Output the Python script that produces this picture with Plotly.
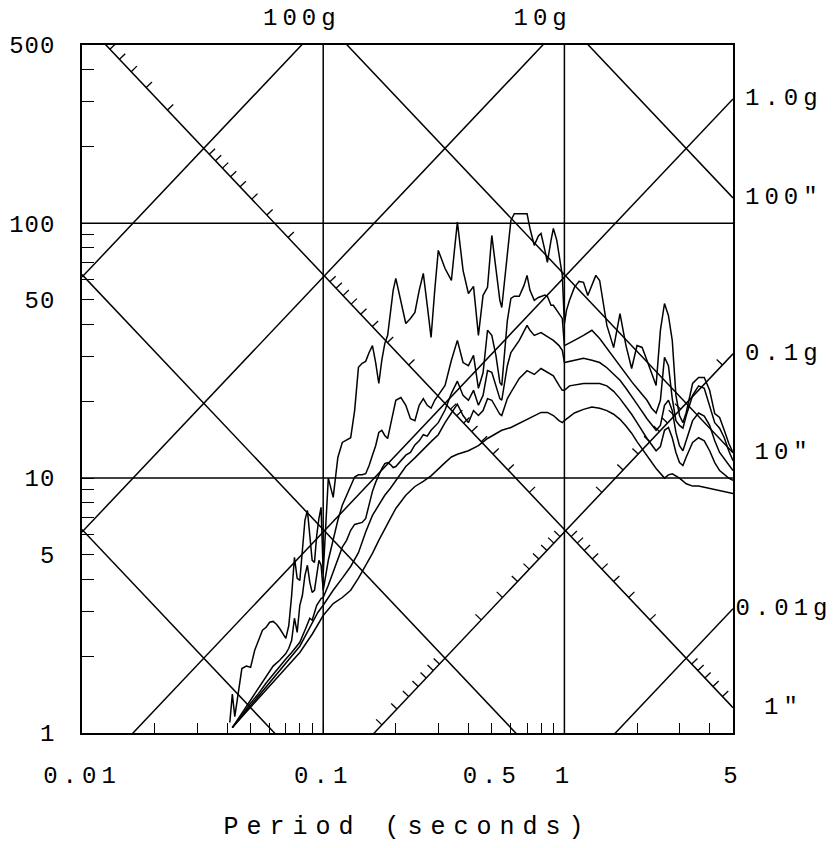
import numpy as np
import plotly.graph_objects as go

G_IN = 386.1  # gravity in in/s^2

# ---- response spectra: period (s) and pseudo-velocity (in/s) ----
period_1 = [0.041, 0.042, 0.043, 0.046, 0.048, 0.050, 0.052, 0.054, 0.056, 0.058,
            0.060, 0.062, 0.064, 0.066, 0.068, 0.070, 0.072, 0.074, 0.076, 0.078,
            0.080, 0.082, 0.084, 0.086, 0.088, 0.090, 0.092, 0.094, 0.096, 0.098,
            0.100, 0.105, 0.11, 0.115, 0.12, 0.125, 0.13, 0.135, 0.14, 0.145,
            0.15, 0.155, 0.16, 0.165, 0.17, 0.175, 0.18, 0.185, 0.19, 0.195,
            0.20, 0.21, 0.22, 0.23, 0.24, 0.25, 0.26, 0.27, 0.28, 0.29,
            0.30, 0.32, 0.33, 0.34, 0.35, 0.36, 0.38, 0.40, 0.42, 0.44,
            0.46, 0.48, 0.50, 0.52, 0.54, 0.55, 0.58, 0.60, 0.62, 0.65,
            0.70, 0.72, 0.75, 0.78, 0.80, 0.83, 0.85, 0.88, 0.90, 0.93,
            0.95, 0.98, 1.00, 1.02, 1.05, 1.1, 1.15, 1.2, 1.25, 1.3,
            1.35, 1.4, 1.45, 1.5, 1.6, 1.7, 1.8, 1.9, 2.0, 2.1,
            2.2, 2.3, 2.4, 2.5, 2.6, 2.7, 2.8, 2.9, 3.0, 3.1,
            3.2, 3.4, 3.6, 3.8, 4.0, 4.2, 4.4, 4.6, 4.8, 5.0]
velocity_1 = [1.10, 1.42, 1.16, 1.79, 1.83, 1.81, 2.11, 2.31, 2.53, 2.60,
              2.72, 2.74, 2.67, 2.57, 2.46, 2.35, 2.64, 3.47, 4.89, 4.04,
              3.97, 5.45, 6.83, 7.47, 5.96, 4.76, 4.67, 5.96, 6.95, 7.68,
              4.23, 10.0, 8.40, 12.05, 13.8, 14.05, 14.4, 18.4, 27.2, 28.2,
              28.7, 31.1, 33.1, 28.4, 23.5, 29.0, 33.7, 36.3, 45.5, 54.5,
              60.7, 49.8, 40.4, 42.3, 44.7, 54.5, 63.5, 47.6, 35.6, 54.5,
              78.2, 66.4, 62.4, 59.6, 78.2, 101.0, 65.3, 53.0, 56.5, 36.3,
              52.1, 56.0, 89.5, 65.3, 49.8, 46.7, 78.2, 102.5, 109.0, 109.0,
              109.0, 95.3, 81.8, 89.1, 91.1, 78.2, 70.2, 85.6, 95.3, 85.6,
              74.7, 62.4, 40.4, 45.5, 49.8, 56.0, 59.1, 58.6, 52.0, 57.0,
              62.4, 59.6, 47.6, 39.7, 32.5, 44.2, 33.1, 26.9, 33.1, 32.55,
              28.95, 26.0, 23.1, 37.95, 48.4, 43.4, 34.7, 21.1, 17.6, 16.5,
              18.1, 23.5, 24.8, 24.8, 22.1, 17.9, 17.3, 15.4, 13.7, 12.6]

period_2 = [0.042, 0.045, 0.048, 0.050, 0.054, 0.058, 0.062, 0.066, 0.070, 0.072,
            0.074, 0.076, 0.078, 0.080, 0.082, 0.084, 0.086, 0.088, 0.090, 0.092,
            0.094, 0.096, 0.098, 0.100, 0.105, 0.11, 0.115, 0.12, 0.125, 0.13,
            0.135, 0.14, 0.145, 0.15, 0.155, 0.16, 0.165, 0.17, 0.175, 0.18,
            0.185, 0.19, 0.195, 0.20, 0.21, 0.22, 0.23, 0.24, 0.25, 0.26,
            0.27, 0.28, 0.29, 0.30, 0.32, 0.34, 0.36, 0.38, 0.40, 0.42,
            0.44, 0.46, 0.48, 0.50, 0.52, 0.54, 0.55, 0.58, 0.60, 0.62,
            0.65, 0.68, 0.70, 0.72, 0.75, 0.78, 0.80, 0.83, 0.85, 0.88,
            0.90, 0.93, 0.95, 0.98, 1.00, 1.05, 1.1, 1.2, 1.3, 1.4,
            1.5, 1.6, 1.7, 1.8, 1.9, 2.0, 2.1, 2.2, 2.3, 2.4,
            2.5, 2.6, 2.7, 2.8, 2.9, 3.0, 3.1, 3.2, 3.4, 3.6,
            3.8, 4.0, 4.2, 4.4, 4.6, 4.8, 5.0]
velocity_2 = [1.05, 1.16, 1.26, 1.34, 1.50, 1.67, 1.83, 1.93, 2.05, 2.15,
              2.31, 2.82, 2.48, 3.17, 3.47, 4.15, 4.55, 3.90, 3.56, 3.63,
              4.15, 4.76, 4.55, 3.63, 4.76, 5.70, 6.83, 7.82, 8.56, 9.27,
              10.1, 10.3, 10.3, 10.4, 11.2, 12.3, 13.4, 15.1, 15.4, 14.7,
              14.3, 16.1, 18.1, 20.2, 20.7, 19.3, 17.1, 16.8, 19.3, 20.5,
              19.3, 18.8, 20.2, 21.1, 23.1, 29.0, 34.7, 28.4, 27.6, 30.3,
              22.5, 25.9, 38.0, 36.3, 30.3, 23.7, 23.1, 41.5, 50.7, 51.7,
              51.7, 57.0, 62.4, 54.5, 49.8, 51.1, 51.7, 52.2, 51.7, 47.6,
              47.6, 45.5, 44.6, 42.3, 33.1, 34.0, 34.7, 36.3, 38.0, 35.3,
              32.3, 29.5, 27.3, 25.5, 23.9, 22.5, 21.4, 20.2, 18.8, 18.0,
              20.2, 29.8, 27.6, 20.5, 16.8, 16.1, 15.7, 17.6, 21.1, 23.0,
              22.5, 19.3, 16.5, 15.7, 14.4, 12.8, 11.7]

period_3 = [0.042, 0.045, 0.05, 0.054, 0.058, 0.062, 0.066, 0.070, 0.074, 0.078,
            0.080, 0.084, 0.088, 0.090, 0.094, 0.098, 0.100, 0.105, 0.11, 0.115,
            0.12, 0.125, 0.13, 0.135, 0.14, 0.145, 0.15, 0.155, 0.16, 0.165,
            0.17, 0.175, 0.18, 0.185, 0.19, 0.195, 0.20, 0.21, 0.22, 0.23,
            0.24, 0.25, 0.26, 0.27, 0.28, 0.30, 0.32, 0.34, 0.36, 0.38,
            0.40, 0.42, 0.44, 0.46, 0.48, 0.50, 0.52, 0.54, 0.55, 0.58,
            0.60, 0.65, 0.70, 0.72, 0.75, 0.80, 0.85, 0.90, 0.95, 0.98,
            1.00, 1.1, 1.2, 1.3, 1.4, 1.5, 1.6, 1.7, 1.8, 1.9,
            2.0, 2.2, 2.4, 2.5, 2.6, 2.7, 2.8, 2.9, 3.0, 3.1,
            3.2, 3.4, 3.6, 3.8, 4.0, 4.2, 4.4, 4.6, 4.8, 5.0]
velocity_3 = [1.05, 1.14, 1.31, 1.43, 1.57, 1.70, 1.83, 1.95, 2.07, 2.19,
              2.27, 2.53, 2.82, 2.77, 3.17, 3.37, 3.40, 3.80, 4.27, 4.76,
              5.36, 5.70, 6.24, 6.58, 6.64, 6.70, 6.95, 7.82, 8.87, 9.62,
              10.3, 10.9, 11.4, 11.5, 11.3, 11.0, 11.1, 11.7, 12.3, 12.6,
              13.5, 14.0, 14.8, 14.6, 15.4, 16.5, 18.5, 21.5, 24.0, 21.1,
              20.2, 22.1, 19.3, 21.1, 26.4, 26.0, 23.1, 20.5, 20.2, 27.6,
              31.1, 34.7, 39.7, 38.0, 36.3, 37.2, 35.9, 34.7, 33.1, 31.7,
              28.4, 29.0, 29.5, 29.0, 28.4, 27.1, 25.6, 24.2, 22.5, 21.0,
              19.5, 17.1, 15.4, 16.1, 19.3, 20.2, 18.4, 15.1, 13.4, 12.8,
              14.0, 16.8, 18.0, 17.5, 16.1, 14.0, 12.6, 11.9, 11.3, 10.7]

period_4 = [0.042, 0.05, 0.058, 0.066, 0.074, 0.080, 0.084, 0.090, 0.095, 0.100,
            0.11, 0.12, 0.13, 0.14, 0.15, 0.16, 0.17, 0.18, 0.19, 0.20,
            0.22, 0.24, 0.26, 0.28, 0.30, 0.32, 0.34, 0.36, 0.38, 0.40,
            0.42, 0.44, 0.46, 0.48, 0.50, 0.52, 0.54, 0.55, 0.58, 0.60,
            0.65, 0.70, 0.75, 0.80, 0.85, 0.90, 0.95, 0.98, 1.00, 1.05,
            1.2, 1.4, 1.5, 1.6, 1.7, 1.8, 1.9, 2.0, 2.2, 2.4,
            2.5, 2.6, 2.7, 2.8, 2.9, 3.0, 3.1, 3.2, 3.4, 3.6,
            3.8, 4.0, 4.2, 4.4, 4.6, 4.8, 5.0]
velocity_4 = [1.05, 1.28, 1.52, 1.76, 2.00, 2.19, 2.39, 2.72, 2.97, 3.17,
              3.63, 4.05, 4.50, 5.10, 6.14, 7.14, 7.82, 8.56, 9.12, 9.8,
              11.1, 12.0, 13.0, 13.9, 14.8, 16.5, 18.0, 19.5, 17.6, 16.5,
              18.4, 17.6, 18.4, 20.5, 20.2, 19.0, 17.8, 17.6, 20.5, 21.7,
              24.6, 26.4, 25.5, 26.9, 26.0, 25.2, 23.1, 22.1, 22.1, 23.0,
              23.5, 23.5, 23.0, 21.9, 20.5, 19.1, 17.8, 16.5, 14.3, 12.8,
              13.3, 15.4, 15.8, 14.4, 12.6, 11.5, 11.2, 12.1, 13.8, 14.4,
              14.0, 12.8, 11.5, 10.7, 10.3, 10.0, 9.8]

period_5 = [0.042, 0.05, 0.058, 0.066, 0.074, 0.080, 0.090, 0.100, 0.11, 0.12,
            0.13, 0.14, 0.15, 0.16, 0.17, 0.18, 0.19, 0.20, 0.22, 0.24,
            0.26, 0.28, 0.30, 0.32, 0.34, 0.36, 0.40, 0.44, 0.48, 0.52,
            0.55, 0.60, 0.65, 0.70, 0.75, 0.80, 0.85, 0.90, 0.95, 0.98,
            1.00, 1.1, 1.2, 1.3, 1.4, 1.5, 1.6, 1.7, 1.8, 1.9,
            2.0, 2.2, 2.4, 2.6, 2.7, 2.8, 3.0, 3.2, 3.4, 3.6,
            4.0, 4.4, 5.0]
velocity_5 = [1.05, 1.26, 1.47, 1.68, 1.89, 2.07, 2.44, 2.89, 3.22, 3.40,
              3.63, 4.05, 4.55, 5.07, 5.70, 6.35, 6.95, 7.6, 8.56, 9.27,
              9.7, 10.2, 10.9, 11.5, 12.1, 12.4, 12.8, 13.4, 14.3, 15.0,
              15.4, 15.8, 16.4, 17.0, 17.6, 18.1, 18.1, 17.6, 16.8, 16.5,
              16.8, 18.0, 18.6, 19.0, 18.8, 18.4, 17.8, 17.0, 16.0, 15.0,
              13.9, 12.3, 10.9, 10.0, 10.3, 10.4, 10.0, 9.5, 9.3, 9.3,
              9.1, 8.95, 8.7]

spectra = [(period_1, velocity_1), (period_2, velocity_2), (period_3, velocity_3),
           (period_4, velocity_4), (period_5, velocity_5)]

# ---- tripartite grid ----
accel_lines_g = [0.01, 0.1, 1.0, 10.0, 100.0]
disp_lines_in = [0.01, 0.1, 1.0, 10.0, 100.0]
grid_periods = [0.1, 1.0]
grid_velocities = [10.0, 100.0]
tick_mantissas = [2, 3, 4, 5, 6, 7, 8, 9]
ticked_disp_line_in = 1.0      # carries acceleration ticks
ticked_accel_line_g = 0.1      # carries displacement ticks

x_tick_vals = [0.01, 0.1, 0.5, 1, 5]
x_tick_text = ["0.01", "0.1", "0.5", "1", "5"]
x_minor_vals = [0.02, 0.03, 0.04, 0.05, 0.06, 0.07, 0.08, 0.09,
                0.2, 0.3, 0.4, 0.6, 0.7, 0.8, 0.9, 2, 3, 4]
y_tick_vals = [1, 5, 10, 50, 100, 500]
y_tick_text = ["1", "5", "10", "50", "100", "500"]
y_minor_vals = [2, 3, 4, 6, 7, 8, 9, 20, 30, 40, 60, 70, 80, 90, 200, 300, 400]

right_labels = [("1.0g", "A", 1.0), ('100"', "D", 100.0), ("0.1g", "A", 0.1),
                ('10"', "D", 10.0), ("0.01g", "A", 0.01), ('1"', "D", 1.0)]
top_labels = [("100g", 100.0), ("10g", 10.0)]

# ---- geometry ----
W, H = 836, 848
M = dict(l=80, r=103, t=45, b=115)
T_MIN, T_MAX = 0.01, 5.0
V_MIN, V_MAX = 1.0, 500.0
X_RANGE = [np.log10(T_MIN), np.log10(T_MAX)]
Y_RANGE = [np.log10(V_MIN), np.log10(V_MAX)]
PW = W - M["l"] - M["r"]
PH = H - M["t"] - M["b"]
PX_X = PW / (X_RANGE[1] - X_RANGE[0])
PX_Y = PH / (Y_RANGE[1] - Y_RANGE[0])

INK = "black"
FONT = "Liberation Mono"

fig = go.Figure()


def add_line(x, y, width=1.5):
    fig.add_trace(go.Scatter(x=x, y=y, mode="lines",
                             line=dict(color=INK, width=width),
                             hoverinfo="skip", showlegend=False))


t_span = np.array([T_MIN, T_MAX])
for a in accel_lines_g:
    add_line(t_span, a * G_IN * t_span / (2 * np.pi))
for d in disp_lines_in:
    add_line(t_span, 2 * np.pi * d / t_span)
for t in grid_periods:
    add_line([t, t], [V_MIN, V_MAX])
for v in grid_velocities:
    add_line([T_MIN, T_MAX], [v, v])

# short perpendicular ticks along the two labelled diagonals
TICK_LEN = 8.0
norm = np.hypot(PX_X, PX_Y)
dlogT = TICK_LEN * PX_Y / norm / PX_X
dlogV = TICK_LEN * PX_X / norm / PX_Y

tx, ty = [], []
decades = [10.0 ** k for k in range(-3, 3)]
for dec in decades:
    for m in tick_mantissas:
        # acceleration ticks on the constant-displacement line (point up-right)
        acc = m * dec * G_IN
        D = ticked_disp_line_in
        V = np.sqrt(acc * D)
        T = 2 * np.pi * D / V
        tx += [T, T * 10 ** dlogT, None]
        ty += [V, V * 10 ** dlogV, None]
        # displacement ticks on the constant-acceleration line (point up-left)
        acc = ticked_accel_line_g * G_IN
        D = m * dec
        V = np.sqrt(acc * D)
        T = 2 * np.pi * D / V
        tx += [T, T / 10 ** dlogT, None]
        ty += [V, V * 10 ** dlogV, None]
fig.add_trace(go.Scatter(x=tx, y=ty, mode="lines", line=dict(color=INK, width=1.3),
                         hoverinfo="skip", showlegend=False))

# spectra
for per, vel in spectra:
    fig.add_trace(go.Scatter(x=per, y=vel, mode="lines",
                             line=dict(color=INK, width=1.5),
                             hoverinfo="skip", showlegend=False))

# diagonal labels
ann = []
for text, kind, val in right_labels:
    v_edge = val * G_IN * T_MAX / (2 * np.pi) if kind == "A" else 2 * np.pi * val / T_MAX
    ann.append(dict(text=text, xref="paper", x=1 + 51 / PW, xanchor="center",
                    yref="y", y=np.log10(v_edge), yanchor="middle", showarrow=False))
for text, val in top_labels:
    t_top = 2 * np.pi * V_MAX / (val * G_IN)
    ann.append(dict(text=text, xref="x", x=np.log10(t_top), xanchor="center",
                    yref="paper", y=1 + 26 / PH, yanchor="middle", showarrow=False))

fig.update_layout(
    width=W, height=H, margin=M,
    plot_bgcolor="white", paper_bgcolor="white",
    showlegend=False, hovermode=False,
    font=dict(family=FONT, size=24, color=INK),
    annotations=ann,
)
axis_common = dict(type="log", showgrid=False, zeroline=False, showline=True,
                   mirror=True, linecolor=INK, linewidth=1.6,
                   ticks="inside", tickcolor=INK, tickwidth=1.3,
                   tickfont=dict(family=FONT, size=24, color=INK))
fig.update_xaxes(range=X_RANGE, tickvals=x_tick_vals, ticktext=x_tick_text,
                 ticklen=10, ticklabelstandoff=19,
                 minor=dict(tickvals=x_minor_vals, ticks="inside", ticklen=10,
                            tickwidth=1.3, tickcolor=INK, showgrid=False),
                 title=dict(text="Period (seconds)", standoff=28,
                            font=dict(family=FONT, size=25, color=INK)),
                 **axis_common)
fig.update_yaxes(range=Y_RANGE, tickvals=y_tick_vals, ticktext=y_tick_text,
                 ticklen=12, ticklabelstandoff=20,
                 minor=dict(tickvals=y_minor_vals, ticks="inside", ticklen=12,
                            tickwidth=1.3, tickcolor=INK, showgrid=False),
                 **axis_common)

# typewriter-style letter spacing for the labels
css = (".xtick text{letter-spacing:5px}"
       ".ytick text{letter-spacing:1px}"
       ".xtitle{letter-spacing:8px}"
       ".annotation-text{letter-spacing:5px}")
post = ("var s=document.createElement('style');s.textContent='" + css +
        "';document.head.appendChild(s);")

fig.write_html("out.html", post_script=post, config={"displayModeBar": False})
